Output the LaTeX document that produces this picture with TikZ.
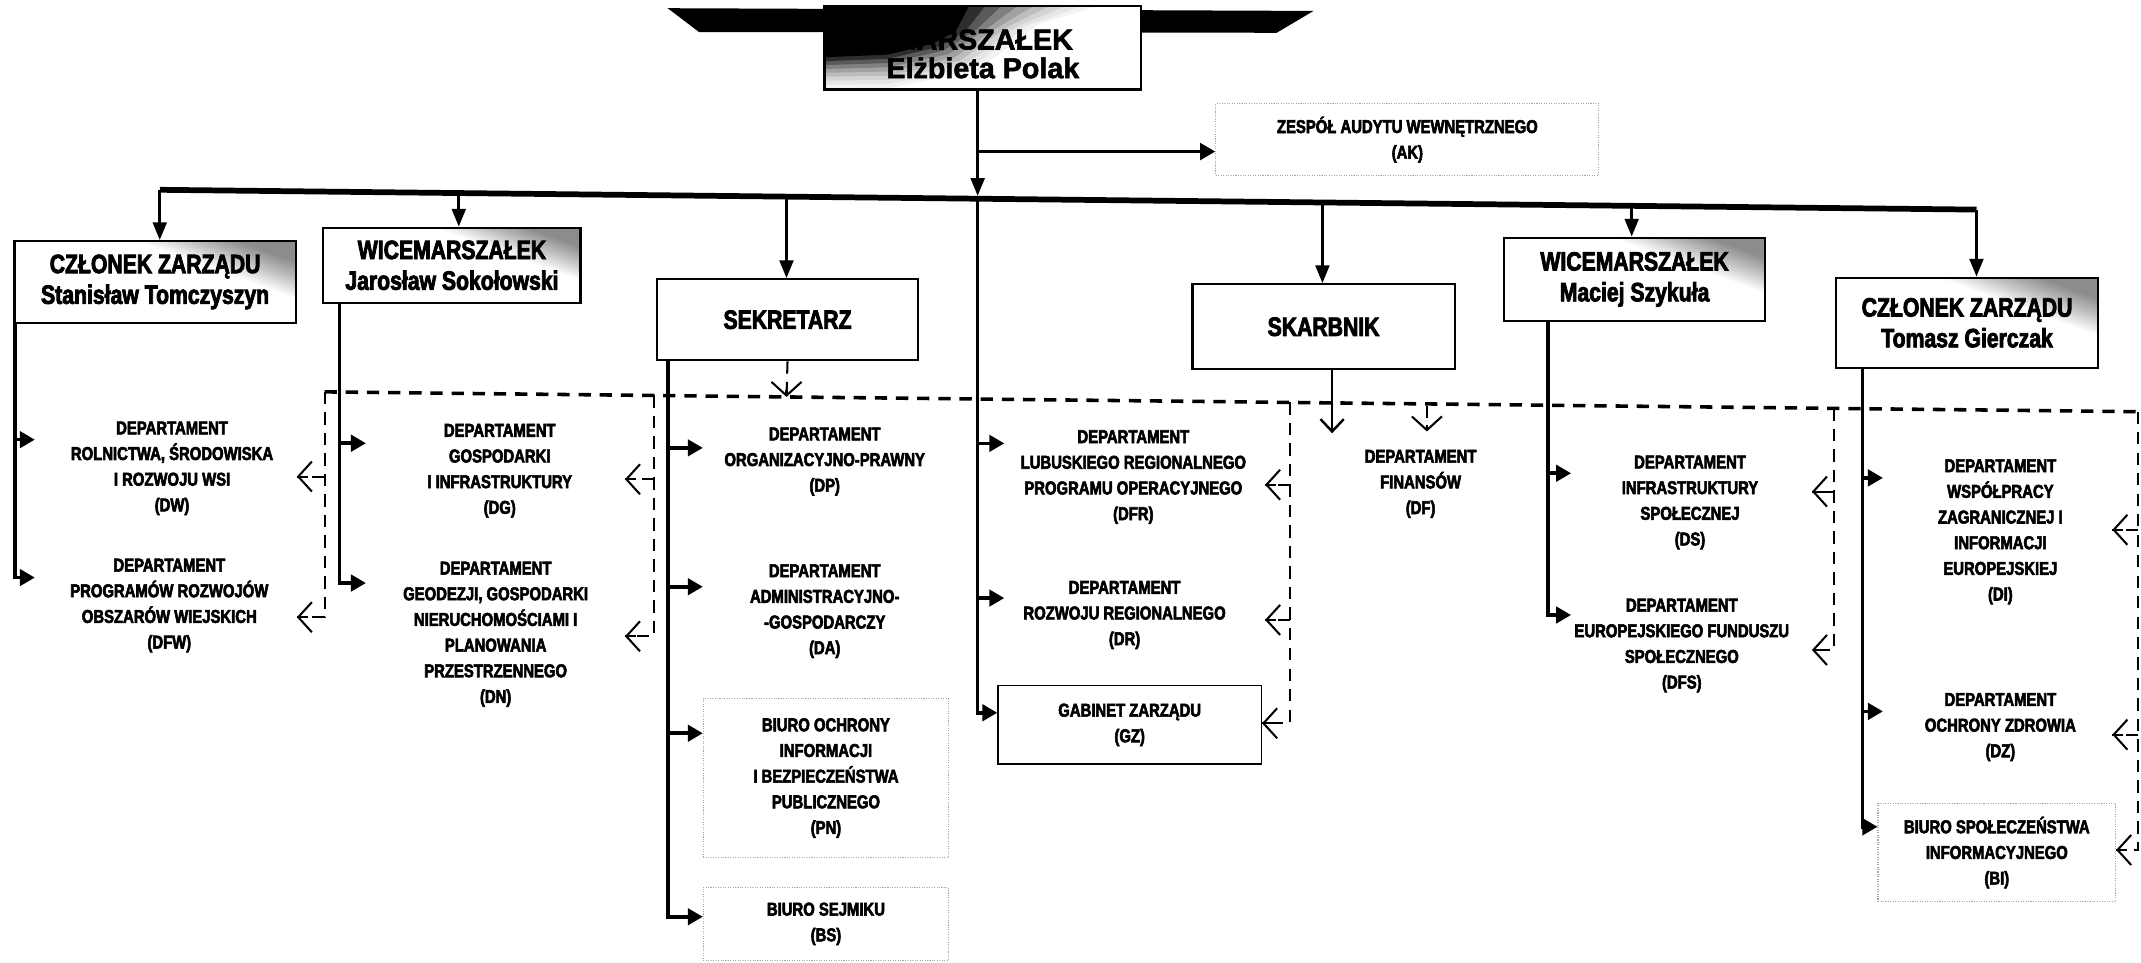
\documentclass[tikz,border=0pt]{standalone}
\usepackage{fontspec}
\newfontfamily\nf{Liberation Sans}[FakeStretch=0.8, FakeBold=3]
\newfontfamily\wf{Liberation Sans}[FakeBold=2]
\usetikzlibrary{arrows.meta,calc}
\pgfdeclarehorizontalshading{hdrsh}{100bp}{color(0bp)=(white); color(62bp)=(white); color(68bp)=(black!22); color(75bp)=(black!45); color(100bp)=(black!45)}
\begin{document}
\begin{tikzpicture}[x=1pt, y=-1pt,
  hbox/.style={draw, line width=1.6pt, inner sep=0pt, anchor=north west, align=center, font=\nf\bfseries\fontsize{19.4}{22.5}\selectfont},
  hshade/.style={shading=hdrsh, shading angle=70},
  dept/.style={inner sep=0pt, align=center, font=\nf\bfseries\fontsize{13.6}{18.8}\selectfont},
  gbox/.style={draw=black!35, densely dotted, line width=0.8pt, inner sep=0pt, anchor=north west, align=center, font=\nf\bfseries\fontsize{13.6}{18.8}\selectfont},
  sarr/.style={line width=2.6pt, -{Triangle[length=11pt,width=12pt]}},
  downarr/.style={line width=2.2pt, -{Triangle[length=13pt,width=10pt]}},
  dl/.style={line width=1.5pt, dash pattern=on 9pt off 6pt},
  dtip/.style={line width=1.5pt, -{Straight Barb[length=10pt,width=22pt]}},
  hdash/.style={line width=2.6pt, dash pattern=on 9pt off 6.5pt},
  barline/.style={line width=4.2pt}
]
\useasboundingbox (0,0) rectangle (1568,705);
\fill[white] (0,0) rectangle (1568,705);

% top: black banner and the dark corner of the Marszalek box
\fill[black] (489,6) -- (962,8) -- (935,24) -- (512,23.5) -- cycle;
\coordinate (i1) at (710,3.7);  \coordinate (o1) at (806,3.7);
\coordinate (i2) at (700,23);   \coordinate (o2) at (760,18);
\coordinate (i3) at (683,32);   \coordinate (o3) at (715,52);
\coordinate (i4) at (650,40);   \coordinate (o4) at (650,64.7);
\coordinate (i5) at (603,42);   \coordinate (o5) at (603,64.7);
\begin{scope}
  \clip (603,3.7) rectangle (835,64.7);
  \fill[white] (603,3.7) rectangle (835,64.7);
  \foreach \f/\c in {1/5, 0.875/10, 0.75/17, 0.625/26, 0.5/37, 0.375/50, 0.25/65, 0.125/82, 0/100}
    \fill[black!\c] (603,3.7) -- ($(i1)!\f!(o1)$) -- ($(i2)!\f!(o2)$) -- ($(i3)!\f!(o3)$) -- ($(i4)!\f!(o4)$) -- ($(i5)!\f!(o5)$) -- cycle;
\end{scope}
\node[hbox, minimum width=232, minimum height=61] (MAR) at (603,3.7) {};
\node[inner sep=0pt, align=center, font=\wf\bfseries\fontsize{21}{21}\selectfont] (MARt) at ([yshift=-4.5pt]MAR.center) {MARSZAŁEK\\Elżbieta Polak};
\node[gbox, minimum width=280.6, minimum height=52.4] (AK) at (890,75.6) {ZESPÓŁ AUDYTU WEWNĘTRZNEGO\\(AK)};

% level 1
\node[hbox, hshade, minimum width=206, minimum height=59.8] (CZ1) at (9.8,175.8) {CZŁONEK ZARZĄDU\\Stanisław Tomczyszyn};
\node[hbox, hshade, minimum width=188.4, minimum height=55] (WM1) at (236,166) {WICEMARSZAŁEK\\Jarosław Sokołowski};
\node[hbox, minimum width=191.3, minimum height=59.3] (SEK) at (480.3,203.7) {SEKRETARZ};
\node[hbox, minimum width=191.9, minimum height=62.2] (SKA) at (872.6,207.4) {SKARBNIK};
\node[hbox, hshade, minimum width=191.4, minimum height=61.1] (WM2) at (1100.6,173.3) {WICEMARSZAŁEK\\Maciej Szykuła};
\node[hbox, hshade, minimum width=191.6, minimum height=66] (CZ2) at (1344,202.6) {CZŁONEK ZARZĄDU\\Tomasz Gierczak};

% level 2
\node[dept] (DW) at (126,343) {DEPARTAMENT\\ROLNICTWA, ŚRODOWISKA\\I ROZWOJU WSI\\(DW)};
\node[dept] (DFW) at (124,443.5) {DEPARTAMENT\\PROGRAMÓW ROZWOJÓW\\OBSZARÓW WIEJSKICH\\(DFW)};
\node[dept] (DG) at (366,344.8) {DEPARTAMENT\\GOSPODARKI\\I INFRASTRUKTURY\\(DG)};
\node[dept] (DN) at (363,464.5) {DEPARTAMENT\\GEODEZJI, GOSPODARKI\\NIERUCHOMOŚCIAMI I\\PLANOWANIA\\PRZESTRZENNEGO\\(DN)};
\node[dept] (DP) at (604,338) {DEPARTAMENT\\ORGANIZACYJNO-PRAWNY\\(DP)};
\node[dept] (DA) at (604,447.6) {DEPARTAMENT\\ADMINISTRACYJNO-\\-GOSPODARCZY\\(DA)};
\node[gbox, minimum width=179.6, minimum height=116] (PN) at (514.7,511.4) {BIURO OCHRONY\\INFORMACJI\\I BEZPIECZEŃSTWA\\PUBLICZNEGO\\(PN)};
\node[gbox, minimum width=179.6, minimum height=53.6] (BS) at (514.7,649.4) {BIURO SEJMIKU\\(BS)};
\node[dept] (DFR) at (830,349.4) {DEPARTAMENT\\LUBUSKIEGO REGIONALNEGO\\PROGRAMU OPERACYJNEGO\\(DFR)};
\node[dept] (DR) at (823.6,450.4) {DEPARTAMENT\\ROZWOJU REGIONALNEGO\\(DR)};
\node[draw, line width=1pt, inner sep=0pt, anchor=north west, align=center, font=\nf\bfseries\fontsize{13.6}{18.8}\selectfont, minimum width=192.9, minimum height=57.3] (GZ) at (730.4,501.7) {GABINET ZARZĄDU\\(GZ)};
\node[dept] (DF) at (1040.4,354.4) {DEPARTAMENT\\FINANSÓW\\(DF)};
\node[dept] (DS) at (1237.7,368) {DEPARTAMENT\\INFRASTRUKTURY\\SPOŁECZNEJ\\(DS)};
\node[dept] (DFS) at (1231.7,472.8) {DEPARTAMENT\\EUROPEJSKIEGO FUNDUSZU\\SPOŁECZNEGO\\(DFS)};
\node[dept] (DI) at (1465,389.5) {DEPARTAMENT\\WSPÓŁPRACY\\ZAGRANICZNEJ I\\INFORMACJI\\EUROPEJSKIEJ\\(DI)};
\node[dept] (DZ) at (1465,532.5) {DEPARTAMENT\\OCHRONY ZDROWIA\\(DZ)};
\node[gbox, minimum width=174, minimum height=72] (BI) at (1375,588) {BIURO SPOŁECZEŃSTWA\\INFORMACYJNEGO\\(BI)};

% bar
\coordinate (b1) at (117,139);
\coordinate (b2) at (336,141.4);
\coordinate (b3) at (576,144);
\coordinate (bm) at (716,145.5);
\coordinate (b4) at (968.5,148.3);
\coordinate (b5) at (1195,150.75);
\coordinate (b6) at (1447.5,153.5);
\draw[barline] (b1) -- (b6);
\draw[downarr] (b1) -- (b1 |- CZ1.north);
\draw[downarr] (b2) -- (b2 |- WM1.north);
\draw[downarr] (b3) -- (b3 |- SEK.north);
\draw[downarr] (b4) -- (b4 |- SKA.north);
\draw[downarr] (b5) -- (b5 |- WM2.north);
\draw[downarr] (b6) -- (b6 |- CZ2.north);
\draw[downarr] (bm |- MAR.south) -- ([yshift=2pt]bm);
\coordinate (akin) at (AK.west |- 0,111);
\draw[sarr] (bm |- akin) -- (akin);

% marszalek trunk
\coordinate (dfrin) at (735.5,324.7);
\coordinate (drin) at (735.5,438);
\coordinate (gzin) at (GZ.west |- 0,522);
\draw[sarr] (bm) |- (gzin);
\draw[sarr] (bm |- dfrin) -- (dfrin);
\draw[sarr] (bm |- drin) -- (drin);

% column 1
\coordinate (k1) at ([xshift=1pt]CZ1.south west);
\coordinate (dwin) at (25.5,322);
\coordinate (dfwin) at (25.5,423);
\draw[sarr] (k1) |- (dfwin);
\draw[sarr] (k1 |- dwin) -- (dwin);
% column 2
\coordinate (k2) at ([xshift=12.5pt]WM1.south west);
\coordinate (dgin) at (268,324.6);
\coordinate (dnin) at (268,427);
\draw[sarr] (k2) |- (dnin);
\draw[sarr] (k2 |- dgin) -- (dgin);
% column 3
\coordinate (k3) at ([xshift=9pt]SEK.south west);
\coordinate (dpin) at (514.7,328);
\coordinate (dain) at (514.7,429.7);
\coordinate (pnin) at (PN.west |- 0,537);
\coordinate (bsin) at (BS.west |- 0,671.4);
\draw[sarr] (k3) |- (bsin);
\draw[sarr] (k3 |- dpin) -- (dpin);
\draw[sarr] (k3 |- dain) -- (dain);
\draw[sarr] (k3 |- pnin) -- (pnin);
% column 5
\coordinate (k5) at ([xshift=33pt]WM2.south west);
\coordinate (dsin) at (1150.6,346.6);
\coordinate (dfsin) at (1150.6,450.4);
\draw[sarr] (k5) |- (dfsin);
\draw[sarr] (k5 |- dsin) -- (dsin);
% column 6
\coordinate (k6) at ([xshift=20pt]CZ2.south west);
\coordinate (diin) at (1379,350);
\coordinate (dzin) at (1379,521);
\coordinate (biin) at (BI.west |- 0,605.5);
\draw[sarr] (k6) |- (biin);
\draw[sarr] (k6 |- diin) -- (diin);
\draw[sarr] (k6 |- dzin) -- (dzin);

% skarbnik
\coordinate (skin) at (975.6,317.3);
\draw[line width=1.8pt, -{Straight Barb[length=9pt,width=17pt]}] (SKA.south -| skin) -- (skin);

% dashed network
\coordinate (h1) at (237.7,287);
\coordinate (h2) at (479,289.6);
\coordinate (hs) at (576,290.7);
\coordinate (h3) at (944.6,294.7);
\coordinate (hf) at (1045,297);
\coordinate (h4) at (1343.3,299.1);
\coordinate (h5) at (1566,301.5);
\draw[hdash] (h1) -- (h5);
\draw[dl] (SEK.south) -- (hs);
\draw[dtip] ([yshift=5pt]hs) -- (hs);
\coordinate (dfin) at (1045,316);
\draw[dl] (hf) -- (dfin);
\draw[dtip] ([yshift=5pt]dfin) -- (dfin);
% v1
\coordinate (dwd) at (217.4,349);
\coordinate (dfwd) at (217.4,452);
\draw[dl] (h1) |- (dfwd);
\draw[dl] (h1 |- dwd) -- (dwd);
% v2
\coordinate (dgd) at (457.7,351);
\coordinate (dnd) at (457.7,466);
\draw[dl] (h2) |- (dnd);
\draw[dl] (h2 |- dgd) -- (dgd);
% v3
\coordinate (dfrd) at (926.5,355);
\coordinate (drd) at (926.5,454);
\coordinate (gzd) at (GZ.east |- 0,529.7);
\draw[dl] (h3) |- (gzd);
\draw[dl] (h3 |- dfrd) -- (dfrd);
\draw[dl] (h3 |- drd) -- (drd);
% v4
\coordinate (dsd) at (1327,360);
\coordinate (dfsd) at (1327,476);
\draw[dl] (h4) |- (dfsd);
\draw[dl] (h4 |- dsd) -- (dsd);
% v5
\coordinate (did) at (1547,388);
\coordinate (dzd) at (1547,538);
\coordinate (bid) at (BI.east |- 0,622.5);
\draw[dl] (h5) |- (bid);
\draw[dl] (h5 |- did) -- (did);
\draw[dl] (h5 |- dzd) -- (dzd);
% solid open tips of the dashed connectors
\foreach \t in {dwd,dfwd,dgd,dnd,dfrd,drd,gzd,dsd,dfsd,did,dzd,bid}
  \draw[dtip] ([xshift=8pt]\t) -- (\t);
\end{tikzpicture}
\end{document}
